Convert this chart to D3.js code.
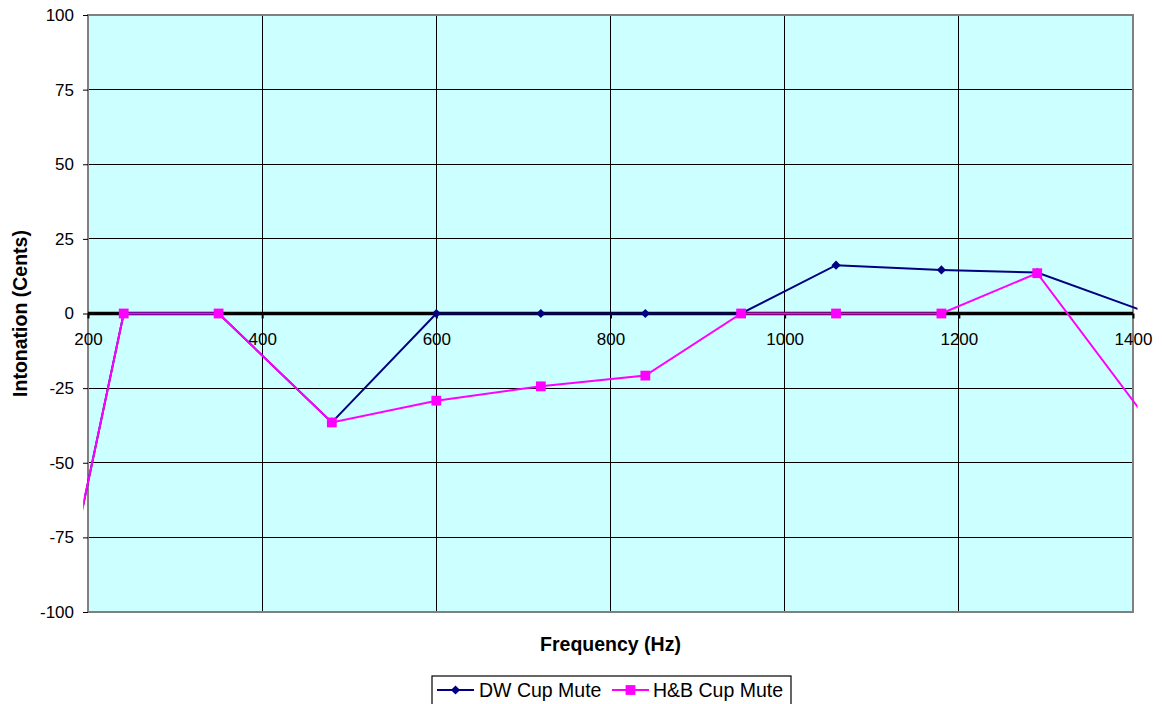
<!DOCTYPE html>
<html>
<head>
<meta charset="utf-8">
<script src="https://cdn.jsdelivr.net/npm/d3@7"></script>
<style>
  html, body { margin: 0; padding: 0; background: #fff; }
  svg { display: block; font-family: "Liberation Sans", Arial, sans-serif; }
</style>
</head>
<body>
<svg id="chart" width="1162" height="704"></svg>
<script>
// Measured pitch deviation for two cup mutes
const freqHz     = [120, 241, 350, 480, 600, 720, 840, 950, 1059, 1180, 1290, 1420];
const dwCupMute  = [-167, 0, 0, -36.5, 0, 0, 0, 0, 16.2, 14.6, 13.7, 0];
const hbCupMute  = [-167, 0, 0, -36.5, -29.2, -24.4, -20.8, 0, 0, 0, 13.5, -37];
const seriesNames = ["DW Cup Mute", "H&B Cup Mute"];
const xTicks = [200, 400, 600, 800, 1000, 1200, 1400];
const yTicks = [-100, -75, -50, -25, 0, 25, 50, 75, 100];

const svg = d3.select("#chart");
const plot = { left: 88, right: 1133, top: 15, bottom: 612 };

const x = d3.scaleLinear().domain([200, 1400]).range([plot.left, plot.right]);
const y = d3.scaleLinear().domain([-100, 100]).range([plot.bottom, plot.top]);

// square diamond marker (equal width and height)
const squareDiamond = {
  draw(ctx, size) {
    const r = Math.sqrt(size / 2);
    ctx.moveTo(0, -r);
    ctx.lineTo(r, 0);
    ctx.lineTo(0, r);
    ctx.lineTo(-r, 0);
    ctx.closePath();
  }
};

// plot area background
svg.append("rect")
  .attr("x", plot.left).attr("y", plot.top)
  .attr("width", plot.right - plot.left).attr("height", plot.bottom - plot.top)
  .attr("fill", "#CCFFFF");

// horizontal gridlines
svg.append("g")
  .selectAll("line").data(yTicks).join("line")
  .attr("x1", plot.left).attr("x2", plot.right)
  .attr("y1", d => y(d)).attr("y2", d => y(d))
  .attr("stroke", "#000").attr("stroke-width", 1)
  .attr("shape-rendering", "crispEdges");

// vertical gridlines
svg.append("g")
  .selectAll("line").data(xTicks).join("line")
  .attr("x1", d => x(d)).attr("x2", d => x(d))
  .attr("y1", plot.top).attr("y2", plot.bottom)
  .attr("stroke", "#000").attr("stroke-width", 1)
  .attr("shape-rendering", "crispEdges");

// plot border
svg.append("rect")
  .attr("x", plot.left).attr("y", plot.top)
  .attr("width", plot.right - plot.left).attr("height", plot.bottom - plot.top)
  .attr("fill", "none").attr("stroke", "#808080").attr("stroke-width", 2);

// y axis ticks and labels
const yAxis = d3.axisLeft(y).tickValues(yTicks).tickSize(5).tickPadding(9)
  .tickFormat(d => String(d));
const gy = svg.append("g").attr("transform", `translate(${plot.left},0)`).call(yAxis);
gy.select(".domain").remove();
gy.selectAll(".tick line").attr("stroke", "#000");
gy.selectAll(".tick text")
  .attr("font-size", 17).attr("fill", "#000")
  .attr("font-family", "Liberation Sans, Arial, sans-serif");

// x axis on the zero line
const xAxis = d3.axisBottom(x).tickValues(xTicks).tickSize(5).tickPadding(14)
  .tickFormat(d => String(d));
const gx = svg.append("g").attr("transform", `translate(0,${y(0)})`).call(xAxis);
gx.select(".domain").remove();
gx.selectAll(".tick line").attr("stroke", "#000").attr("stroke-width", 2);
gx.selectAll(".tick text")
  .attr("font-size", 17).attr("fill", "#000")
  .attr("font-family", "Liberation Sans, Arial, sans-serif");

// bold zero line
svg.append("line")
  .attr("x1", plot.left).attr("x2", plot.right)
  .attr("y1", y(0)).attr("y2", y(0))
  .attr("stroke", "#000").attr("stroke-width", 3.5);

// clip region for the series lines
svg.append("clipPath").attr("id", "plotClip")
  .append("rect")
  .attr("x", plot.left - 4.5).attr("y", plot.top - 4.5)
  .attr("width", plot.right - plot.left + 9).attr("height", plot.bottom - plot.top + 9);

const series = [
  { name: seriesNames[0], values: dwCupMute, color: "#000080", symbol: squareDiamond, size: 42 },
  { name: seriesNames[1], values: hbCupMute, color: "#FF00FF", symbol: d3.symbolSquare, size: 96 }
];

const line = d3.line().x(d => x(d[0])).y(d => y(d[1]));
const inView = d => d[0] >= 200 && d[0] <= 1400;

series.forEach(s => {
  const pts = freqHz.map((f, i) => [f, s.values[i]]);
  const g = svg.append("g");
  g.append("path")
    .attr("d", line(pts))
    .attr("fill", "none").attr("stroke", s.color).attr("stroke-width", 2)
    .attr("clip-path", "url(#plotClip)");
  g.selectAll("path.m").data(pts.filter(inView)).join("path")
    .attr("class", "m")
    .attr("d", d3.symbol().type(s.symbol).size(s.size))
    .attr("transform", d => `translate(${x(d[0])},${y(d[1])})`)
    .attr("fill", s.color);
});

// axis titles
svg.append("text")
  .attr("x", (plot.left + plot.right) / 2).attr("y", 651)
  .attr("text-anchor", "middle").attr("font-size", 19.5).attr("font-weight", "bold")
  .text("Frequency (Hz)");

svg.append("text")
  .attr("transform", `translate(27,${(plot.top + plot.bottom) / 2}) rotate(-90)`)
  .attr("text-anchor", "middle").attr("font-size", 19.5).attr("font-weight", "bold")
  .text("Intonation (Cents)");

// legend
const legend = svg.append("g");
legend.append("rect")
  .attr("x", 432).attr("y", 676).attr("width", 359).attr("height", 32)
  .attr("fill", "#fff").attr("stroke", "#000").attr("stroke-width", 1.2);

const legendItems = [
  { s: series[0], x0: 437, tx: 479 },
  { s: series[1], x0: 612, tx: 653 }
];
legendItems.forEach(it => {
  legend.append("line")
    .attr("x1", it.x0).attr("x2", it.x0 + 37)
    .attr("y1", 690).attr("y2", 690)
    .attr("stroke", it.s.color).attr("stroke-width", 2);
  legend.append("path")
    .attr("d", d3.symbol().type(it.s.symbol).size(it.s.size)())
    .attr("transform", `translate(${it.x0 + 18.5},690)`)
    .attr("fill", it.s.color);
  legend.append("text")
    .attr("x", it.tx).attr("y", 697)
    .attr("font-size", 19.5).attr("fill", "#000")
    .text(it.s.name);
});
</script>
</body>
</html>
